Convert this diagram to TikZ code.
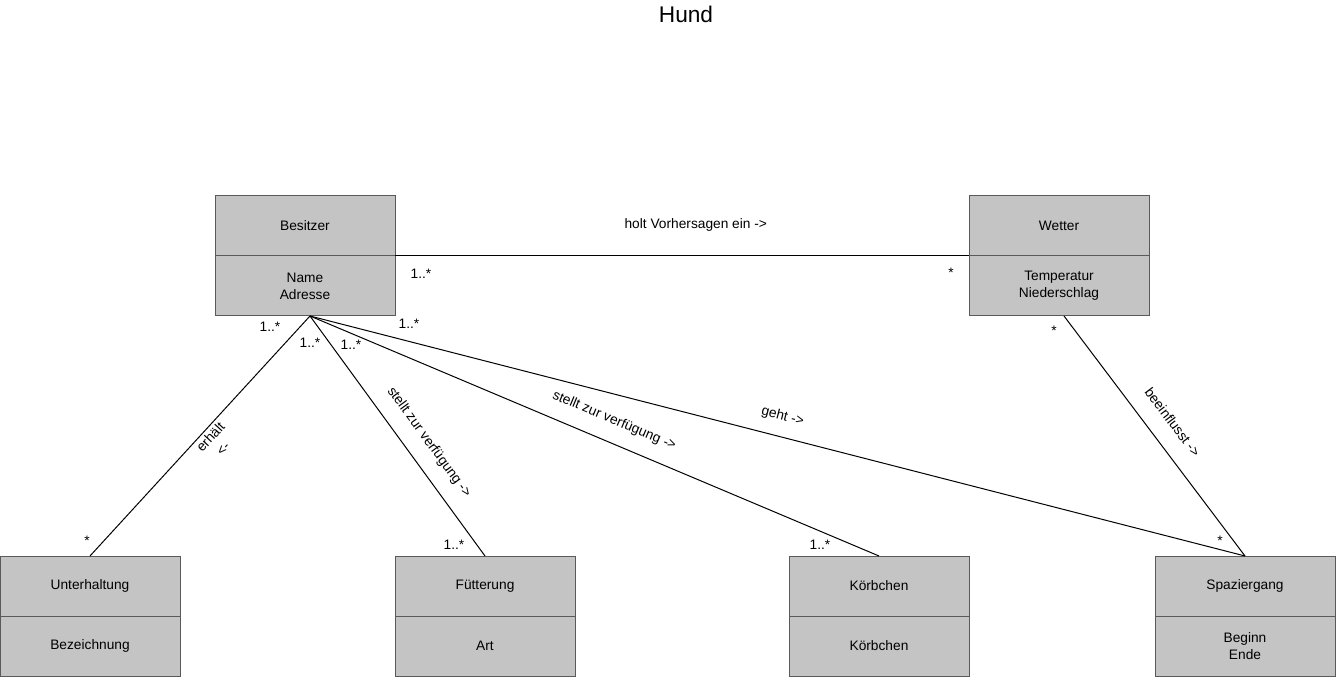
\documentclass[tikz,border=0pt]{standalone}
\usepackage{fontspec}
\setmainfont{Liberation Sans}
\usetikzlibrary{positioning}

\definecolor{clsfill}{RGB}{196,196,196}
\definecolor{clsline}{RGB}{90,90,90}
\newcommand{\diafont}{\fontsize{10.3pt}{12.7pt}\selectfont}
\newcommand{\headfont}{\fontsize{17pt}{20pt}\selectfont}

\begin{document}
\begin{tikzpicture}[
	x = 0.75pt, y = -0.75pt, % one unit = one pixel of the sketch
	line width = 0.75pt, % line style
	node distance = 0pt, % parts of a class touch
	H/.style={rectangle, draw=clsline, fill=clsfill, minimum width=135pt, minimum height=45pt, inner sep=0pt, outer sep=0pt, align=center, font=\diafont}, % class name
	B/.style={H}, % attribute part
	M/.style={inner sep=0pt, font=\diafont}, % multiplicity
	A/.style={sloped, inner sep=2pt, align=center, font=\diafont}, % association name
	]
	\useasboundingbox (0,0) rectangle (1336,677);

	\node[font=\headfont] (title) at (686,14) {Hund};

	% Classes
	\node[H] (bes) at (305,226) {Besitzer};
	\node[B] (besA) [below = of bes] {Name\\Adresse};
	\node[H] (wet) at (1059,226) {Wetter};
	\node[B] (wetA) [below = of wet] {Temperatur\\Niederschlag};
	\node[H] (unt) at (90,586) {Unterhaltung};
	\node[B] (untA) [below = of unt] {Bezeichnung};
	\node[H] (fut) at (485,586) {Fütterung};
	\node[B] (futA) [below = of fut] {Art};
	\node[H] (kor) at (879,586) {Körbchen};
	\node[B] (korA) [below = of kor] {Körbchen};
	\node[H] (spa) at (1245,586) {Spaziergang};
	\node[B] (spaA) [below = of spa] {Beginn\\Ende};

	\coordinate (besP) at ([xshift=3.75pt]besA.south);
	\coordinate (wetP) at ([xshift=3.75pt]wetA.south);

	% Associations
	\path (bes.south east) edge node[A, above=16pt, pos=0.524] (holt) {holt Vorhersagen ein ->} (wet.south west);
	\path (unt.north) edge node[A, below, pos=0.52] (erh) {erhält\\<-} (besP);
	\path (besP) edge node[A, above=9pt, pos=0.58] (stf) {stellt zur verfügung ->} (fut.north);
	\path (besP) edge node[A, above=9pt, pos=0.52] (stk) {stellt zur verfügung ->} (kor.north);
	\path (besP) edge node[A, above=8pt, pos=0.5] (geht) {geht ->} (spa.north);
	\path (wetP) edge node[A, above=11pt, pos=0.5] (bee) {beeinflusst ->} (spa.north);

	% Multiplicities
	\node[M] (m1) at (421,274) {1..*};
	\node[M] (m2) at (951,273) {*};
	\node[M] (m3) at (270,327) {1..*};
	\node[M] (m4) at (87,541) {*};
	\node[M] (m5) at (310,343) {1..*};
	\node[M] (m6) at (454,545) {1..*};
	\node[M] (m7) at (351,345) {1..*};
	\node[M] (m8) at (820,545) {1..*};
	\node[M] (m9) at (409,324) {1..*};
	\node[M] (m10) at (1220,541) {*};
	\node[M] (m11) at (1054,331) {*};

\end{tikzpicture}
\end{document}
